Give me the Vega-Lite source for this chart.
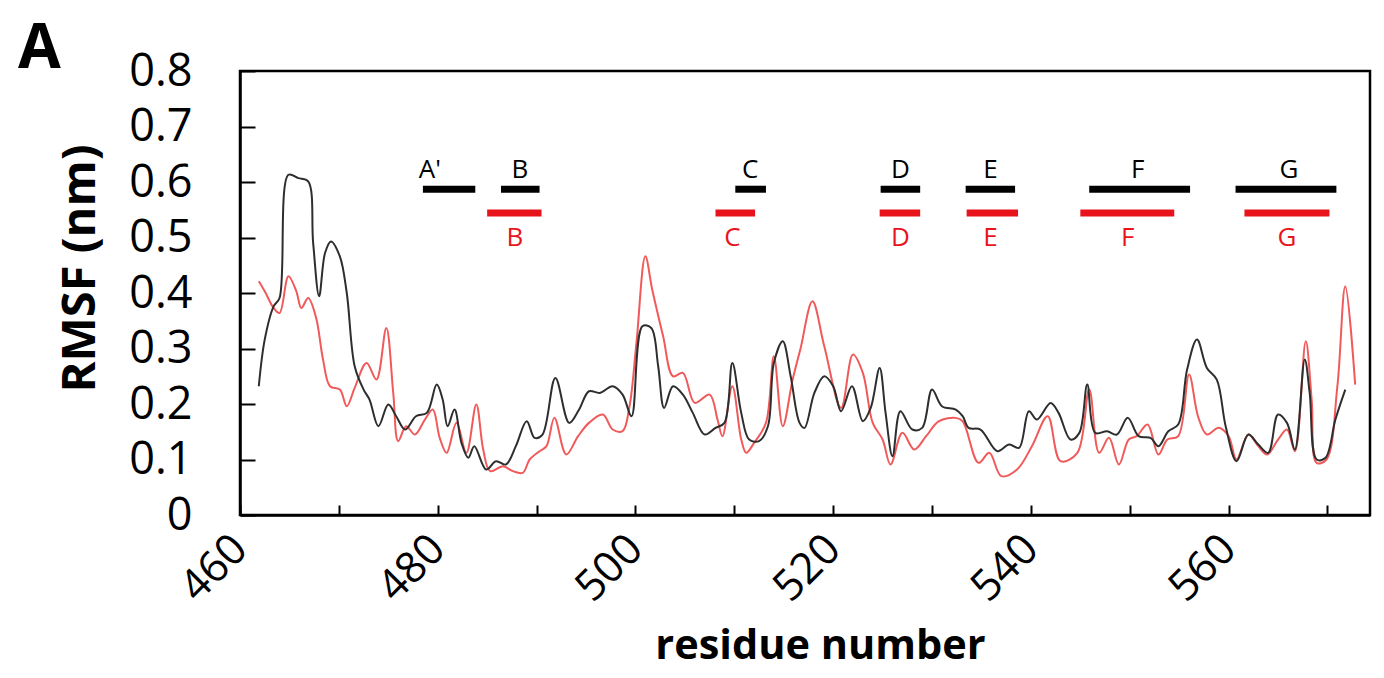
{
  "$schema": "https://vega.github.io/schema/vega-lite/v6.json",
  "width": 1130,
  "height": 444,
  "autosize": {"type": "none"},
  "padding": {"left": 240, "top": 71, "right": 14, "bottom": 163},
  "background": "white",
  "config": {
    "font": "Open Sans",
    "view": {"stroke": "black", "strokeWidth": 2.5}
  },
  "title": {"text": "A", "anchor": "start", "frame": "group", "dx": -222, "dy": 85, "offset": 4, "baseline": "alphabetic", "fontSize": 62, "fontWeight": "bold", "font": "Open Sans", "color": "black"},
  "datasets": {
    "black": [
      {"r":461.9,"v":0.232},{"r":462.5,"v":0.316},{"r":463.4,"v":0.376},{"r":464.0,"v":0.391},{"r":464.9,"v":0.613},{"r":465.9,"v":0.607},{"r":466.9,"v":0.601},{"r":467.4,"v":0.49},{"r":468.0,"v":0.394},{"r":468.6,"v":0.472},{"r":469.2,"v":0.493},{"r":470.1,"v":0.466},{"r":470.8,"v":0.40},{"r":471.6,"v":0.268},{"r":472.5,"v":0.226},{"r":473.1,"v":0.208},{"r":474.0,"v":0.16},{"r":475.0,"v":0.199},{"r":475.8,"v":0.178},{"r":476.7,"v":0.154},{"r":477.8,"v":0.178},{"r":478.9,"v":0.184},{"r":479.9,"v":0.235},{"r":480.5,"v":0.208},{"r":481.0,"v":0.16},{"r":481.7,"v":0.19},{"r":482.4,"v":0.13},{"r":483.1,"v":0.103},{"r":483.7,"v":0.124},{"r":484.9,"v":0.082},{"r":485.9,"v":0.097},{"r":486.9,"v":0.091},{"r":487.9,"v":0.124},{"r":489.0,"v":0.169},{"r":489.8,"v":0.139},{"r":490.6,"v":0.145},{"r":491.9,"v":0.247},{"r":493.3,"v":0.166},{"r":494.3,"v":0.19},{"r":495.3,"v":0.223},{"r":496.4,"v":0.22},{"r":497.7,"v":0.232},{"r":498.7,"v":0.217},{"r":499.6,"v":0.178},{"r":500.7,"v":0.34},{"r":501.6,"v":0.337},{"r":502.3,"v":0.268},{"r":502.9,"v":0.193},{"r":503.8,"v":0.232},{"r":504.8,"v":0.217},{"r":505.8,"v":0.184},{"r":507.0,"v":0.145},{"r":508.1,"v":0.157},{"r":509.0,"v":0.166},{"r":509.8,"v":0.274},{"r":510.7,"v":0.184},{"r":511.5,"v":0.136},{"r":512.5,"v":0.133},{"r":513.4,"v":0.16},{"r":514.0,"v":0.274},{"r":514.9,"v":0.313},{"r":515.7,"v":0.25},{"r":516.6,"v":0.166},{"r":517.1,"v":0.157},{"r":518.1,"v":0.22},{"r":519.1,"v":0.25},{"r":520.0,"v":0.232},{"r":520.8,"v":0.187},{"r":521.9,"v":0.232},{"r":523.0,"v":0.169},{"r":523.8,"v":0.193},{"r":524.7,"v":0.265},{"r":525.3,"v":0.184},{"r":526.0,"v":0.106},{"r":526.8,"v":0.187},{"r":528.0,"v":0.154},{"r":529.0,"v":0.157},{"r":530.0,"v":0.226},{"r":531.0,"v":0.196},{"r":532.4,"v":0.19},{"r":533.1,"v":0.178},{"r":533.7,"v":0.157},{"r":534.9,"v":0.154},{"r":536.6,"v":0.115},{"r":537.8,"v":0.127},{"r":538.8,"v":0.121},{"r":539.8,"v":0.187},{"r":540.6,"v":0.172},{"r":542.0,"v":0.202},{"r":542.8,"v":0.184},{"r":544.0,"v":0.136},{"r":544.9,"v":0.148},{"r":545.7,"v":0.235},{"r":546.5,"v":0.148},{"r":547.7,"v":0.151},{"r":548.7,"v":0.145},{"r":549.8,"v":0.175},{"r":550.9,"v":0.142},{"r":552.1,"v":0.139},{"r":552.9,"v":0.124},{"r":553.9,"v":0.151},{"r":554.9,"v":0.163},{"r":555.8,"v":0.262},{"r":556.8,"v":0.316},{"r":557.8,"v":0.265},{"r":558.8,"v":0.244},{"r":559.7,"v":0.16},{"r":560.8,"v":0.097},{"r":562.0,"v":0.145},{"r":563.0,"v":0.127},{"r":564.0,"v":0.112},{"r":565.0,"v":0.181},{"r":565.9,"v":0.166},{"r":566.7,"v":0.118},{"r":567.7,"v":0.28},{"r":568.2,"v":0.22},{"r":568.9,"v":0.10},{"r":569.8,"v":0.103},{"r":570.8,"v":0.172},{"r":571.8,"v":0.226}
    ],
    "red": [
      {"r":461.9,"v":0.421},{"r":462.5,"v":0.403},{"r":463.4,"v":0.373},{"r":464.0,"v":0.364},{"r":464.9,"v":0.43},{"r":465.7,"v":0.403},{"r":466.2,"v":0.373},{"r":466.9,"v":0.391},{"r":467.7,"v":0.355},{"r":468.4,"v":0.28},{"r":469.1,"v":0.232},{"r":470.1,"v":0.226},{"r":470.8,"v":0.196},{"r":471.6,"v":0.229},{"r":472.8,"v":0.274},{"r":473.8,"v":0.244},{"r":474.8,"v":0.337},{"r":475.5,"v":0.22},{"r":476.0,"v":0.133},{"r":476.8,"v":0.16},{"r":477.7,"v":0.145},{"r":478.7,"v":0.172},{"r":479.5,"v":0.19},{"r":480.2,"v":0.139},{"r":480.9,"v":0.112},{"r":481.9,"v":0.166},{"r":482.9,"v":0.112},{"r":483.9,"v":0.199},{"r":484.6,"v":0.118},{"r":485.3,"v":0.079},{"r":486.6,"v":0.088},{"r":487.6,"v":0.079},{"r":488.6,"v":0.076},{"r":489.3,"v":0.10},{"r":490.3,"v":0.115},{"r":491.0,"v":0.124},{"r":491.8,"v":0.175},{"r":493.0,"v":0.109},{"r":494.2,"v":0.142},{"r":495.3,"v":0.166},{"r":496.7,"v":0.181},{"r":497.7,"v":0.154},{"r":498.7,"v":0.151},{"r":499.4,"v":0.196},{"r":500.1,"v":0.31},{"r":501.0,"v":0.466},{"r":501.7,"v":0.406},{"r":502.8,"v":0.322},{"r":503.8,"v":0.25},{"r":504.8,"v":0.256},{"r":506.0,"v":0.202},{"r":507.5,"v":0.217},{"r":508.3,"v":0.172},{"r":508.8,"v":0.142},{"r":509.8,"v":0.232},{"r":510.7,"v":0.136},{"r":511.2,"v":0.112},{"r":512.0,"v":0.13},{"r":513.2,"v":0.166},{"r":514.0,"v":0.286},{"r":514.9,"v":0.16},{"r":515.9,"v":0.244},{"r":516.7,"v":0.30},{"r":517.9,"v":0.385},{"r":519.1,"v":0.304},{"r":520.8,"v":0.193},{"r":522.0,"v":0.289},{"r":523.0,"v":0.256},{"r":524.0,"v":0.166},{"r":525.0,"v":0.136},{"r":525.8,"v":0.091},{"r":527.0,"v":0.148},{"r":528.2,"v":0.118},{"r":529.4,"v":0.142},{"r":530.7,"v":0.169},{"r":532.4,"v":0.175},{"r":533.1,"v":0.169},{"r":534.7,"v":0.094},{"r":535.8,"v":0.112},{"r":537.0,"v":0.07},{"r":538.6,"v":0.082},{"r":540.1,"v":0.124},{"r":541.7,"v":0.178},{"r":543.0,"v":0.097},{"r":544.7,"v":0.112},{"r":545.9,"v":0.226},{"r":546.9,"v":0.112},{"r":547.9,"v":0.139},{"r":548.9,"v":0.091},{"r":549.9,"v":0.136},{"r":550.7,"v":0.142},{"r":551.8,"v":0.163},{"r":552.9,"v":0.109},{"r":553.8,"v":0.136},{"r":554.9,"v":0.142},{"r":556.0,"v":0.253},{"r":556.9,"v":0.178},{"r":557.8,"v":0.145},{"r":559.0,"v":0.157},{"r":560.0,"v":0.142},{"r":560.8,"v":0.10},{"r":562.0,"v":0.145},{"r":563.0,"v":0.124},{"r":563.9,"v":0.109},{"r":565.0,"v":0.136},{"r":565.9,"v":0.154},{"r":566.7,"v":0.115},{"r":567.8,"v":0.313},{"r":568.4,"v":0.208},{"r":568.9,"v":0.094},{"r":569.9,"v":0.10},{"r":571.0,"v":0.232},{"r":571.8,"v":0.412},{"r":572.8,"v":0.235}
    ]
  },
  "layer": [
    {"data": {"name": "red"}, "mark": {"type": "line", "color": "#f05a5a", "strokeWidth": 2, "interpolate": "catmull-rom"},
     "encoding": {
      "x": {
        "field": "r", "type": "quantitative",
        "scale": {"domain": [460, 574.3], "nice": false, "zero": false},
        "axis": {
          "title": "residue number",
          "values": [460,470,480,490,500,510,520,530,540,550,560,570],
          "labelExpr": "datum.value % 20 == 0 ? datum.label : ''",
          "grid": false,
          "domainColor": "black", "domainWidth": 2.5,
          "tickColor": "black", "tickWidth": 2, "tickSize": -10,
          "labelAngle": -45, "labelAlign": "right", "labelBaseline": "middle",
          "labelPadding": 37, "labelFontSize": 43, "labelColor": "black", "labelFont": "Open Sans",
          "labelOverlap": false, "labelFlush": false,
          "titleFontSize": 41.5, "titleFontWeight": "bold", "titleColor": "black", "titleFont": "Open Sans",
          "titleX": 580, "titleY": 143, "titleBaseline": "alphabetic"
        }
      },
      "y": {
        "field": "v", "type": "quantitative",
        "scale": {"domain": [0, 0.8], "nice": false},
        "axis": {
          "title": "RMSF (nm)",
          "values": [0,0.1,0.2,0.3,0.4,0.5,0.6,0.7,0.8],
          "format": ".1~f",
          "grid": false,
          "domainColor": "black", "domainWidth": 2.5,
          "tickColor": "black", "tickWidth": 2, "tickSize": -15,
          "labelPadding": 63, "labelFontSize": 45, "labelColor": "black", "labelFont": "Open Sans",
          "labelOverlap": false, "labelFlush": false,
          "titleFontSize": 47, "titleFontWeight": "bold", "titleColor": "black", "titleFont": "Open Sans",
          "titleX": -160, "titleY": 197, "titleAngle": -90, "titleBaseline": "middle", "titleAlign": "center"
        }
      }
     }},
    {"data": {"name": "black"}, "mark": {"type": "line", "color": "#2e2e2e", "strokeWidth": 2, "interpolate": "catmull-rom"},
     "encoding": {"x": {"field": "r", "type": "quantitative"}, "y": {"field": "v", "type": "quantitative"}}},
    {"data": {"values": [
      {"name":"A'","start":478.5,"end":483.8},
      {"name":"B","start":486.4,"end":490.3},
      {"name":"C","start":510.1,"end":513.2},
      {"name":"D","start":524.8,"end":528.8},
      {"name":"E","start":533.4,"end":538.4},
      {"name":"F","start":545.9,"end":556.1},
      {"name":"G","start":560.7,"end":570.9}
     ]}, "mark": {"type": "rule", "color": "black", "strokeWidth": 7},
     "encoding": {"x": {"field": "start", "type": "quantitative"}, "x2": {"field": "end"}, "y": {"datum": 0.587, "type": "quantitative"}}},
    {"data": {"values": [
      {"name":"B","start":485.0,"end":490.5},
      {"name":"C","start":508.1,"end":512.1},
      {"name":"D","start":524.7,"end":528.8},
      {"name":"E","start":533.5,"end":538.7},
      {"name":"F","start":545.0,"end":554.5},
      {"name":"G","start":561.6,"end":570.2}
     ]}, "mark": {"type": "rule", "color": "#e8141c", "strokeWidth": 7},
     "encoding": {"x": {"field": "start", "type": "quantitative"}, "x2": {"field": "end"}, "y": {"datum": 0.544, "type": "quantitative"}}},
    {"data": {"values": [
      {"name":"A'","mid":479.2},
      {"name":"B","mid":488.3},
      {"name":"C","mid":511.6},
      {"name":"D","mid":526.8},
      {"name":"E","mid":535.9},
      {"name":"F","mid":550.8},
      {"name":"G","mid":566.1}
     ]}, "mark": {"type": "text", "color": "black", "fontSize": 26, "font": "Open Sans", "baseline": "middle", "align": "center"},
     "encoding": {"x": {"field": "mid", "type": "quantitative"}, "y": {"datum": 0.622, "type": "quantitative"}, "text": {"field": "name", "type": "nominal"}}},
    {"data": {"values": [
      {"name":"B","mid":487.8},
      {"name":"C","mid":509.8},
      {"name":"D","mid":526.8},
      {"name":"E","mid":535.9},
      {"name":"F","mid":549.8},
      {"name":"G","mid":565.9}
     ]}, "mark": {"type": "text", "color": "#e8141c", "fontSize": 26, "font": "Open Sans", "baseline": "middle", "align": "center"},
     "encoding": {"x": {"field": "mid", "type": "quantitative"}, "y": {"datum": 0.499, "type": "quantitative"}, "text": {"field": "name", "type": "nominal"}}}
  ]
}
